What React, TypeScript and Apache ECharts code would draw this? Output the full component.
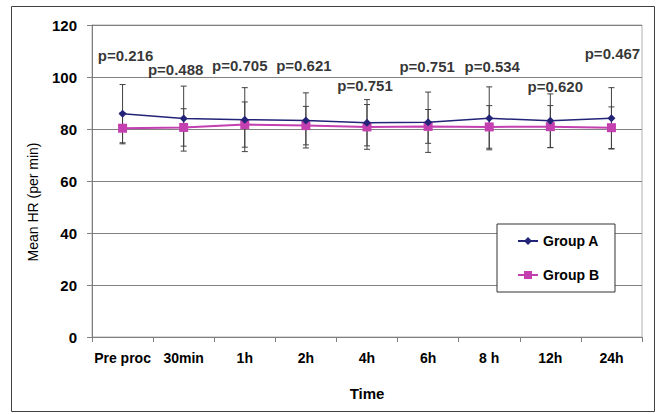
import React, { useEffect, useRef } from "react";
import * as echarts from "echarts";

const categories = ["Pre proc", "30min", "1h", "2h", "4h", "6h", "8 h", "12h", "24h"];
const groupAMean = [85.9, 84.0, 83.6, 83.3, 82.4, 82.6, 84.1, 83.2, 84.1];
const groupASd = [11.2, 12.5, 12.3, 10.6, 8.9, 11.6, 12.1, 10.3, 11.8];
const groupBMean = [80.3, 80.6, 81.7, 81.3, 80.8, 81.0, 80.8, 80.9, 80.5];
const groupBSd = [6.0, 7.2, 8.7, 7.4, 8.6, 6.5, 8.2, 8.1, 8.0];
const pLabels = ["p=0.216", "p=0.488", "p=0.705", "p=0.621", "p=0.751", "p=0.751", "p=0.534", "p=0.620", "p=0.467"];
const pLabelY = [108.3, 103.0, 104.5, 104.5, 96.8, 104.1, 104.1, 96.2, 109.0];
const pLabelDx = [3, -8, -5, -2, -2, -1, 3, 5, 1];

const FONT = "'Liberation Sans', Arial, sans-serif";

export default function App() {
  const ref = useRef<HTMLDivElement>(null);
  useEffect(() => {
    if (!ref.current) return;
    const chart = echarts.init(ref.current, null, { renderer: "svg" });
    const errData = (means: number[], sds: number[]) => means.map((m, i) => [i, m, sds[i]]);
    const renderErr = (params: any, api: any) => {
      const x = api.value(0);
      const m = api.value(1);
      const sd = api.value(2);
      const hi = api.coord([x, m + sd]);
      const lo = api.coord([x, m - sd]);
      const w = 3;
      const style = { stroke: "#404040", lineWidth: 1 };
      return {
        type: "group",
        children: [
          { type: "line", shape: { x1: hi[0], y1: hi[1], x2: lo[0], y2: lo[1] }, style },
          { type: "line", shape: { x1: hi[0] - w, y1: hi[1], x2: hi[0] + w, y2: hi[1] }, style },
          { type: "line", shape: { x1: lo[0] - w, y1: lo[1], x2: lo[0] + w, y2: lo[1] }, style },
        ],
      };
    };
    chart.setOption({
      animation: false,
      backgroundColor: "#ffffff",
      textStyle: { fontFamily: FONT },
      grid: {
        left: 92,
        right: 15,
        top: 25,
        bottom: 77,
        show: true,
        borderColor: "#b0b0b0",
        borderWidth: 1,
      },
      legend: {
        orient: "vertical",
        left: 497,
        top: 224,
        width: 119,
        padding: [10, 16, 10, 20],
        itemGap: 20,
        itemWidth: 20,
        itemHeight: 10,
        backgroundColor: "#ffffff",
        borderColor: "#333333",
        borderWidth: 1,
        textStyle: { fontSize: 14, fontWeight: "bold", color: "#000", fontFamily: FONT },
        data: ["Group A", "Group B"],
      },
      xAxis: {
        type: "category",
        data: categories,
        boundaryGap: true,
        name: "Time",
        nameLocation: "middle",
        nameGap: 49,
        nameTextStyle: { fontSize: 15, fontWeight: "bold", color: "#000", fontFamily: FONT },
        axisLine: { lineStyle: { color: "#7f7f7f", width: 1 } },
        axisTick: { show: true, length: 5, lineStyle: { color: "#7f7f7f" } },
        axisLabel: {
          interval: 0,
          hideOverlap: false,
          fontSize: 14,
          fontWeight: "bold",
          color: "#000",
          margin: 14,
          fontFamily: FONT,
        },
      },
      yAxis: {
        type: "value",
        min: 0,
        max: 120,
        interval: 20,
        axisLine: { show: true, lineStyle: { color: "#7f7f7f", width: 1 } },
        axisTick: { show: true, length: 5, lineStyle: { color: "#7f7f7f" } },
        axisLabel: { fontSize: 15, fontWeight: "bold", color: "#000", margin: 15, fontFamily: FONT },
        splitLine: { show: true, lineStyle: { color: "#808080", width: 1 } },
      },
      graphic: [
        {
          type: "rect",
          shape: { x: 11.5, y: 6.5, width: 643, height: 405 },
          style: { fill: "none", stroke: "#404040", lineWidth: 1 },
          silent: true,
          z: 100,
        },
        {
          type: "text",
          x: 33,
          y: 202,
          rotation: Math.PI / 2,
          style: {
            text: "Mean HR (per min)",
            fontSize: 14,
            fontFamily: FONT,
            fill: "#000",
            textAlign: "center",
            textVerticalAlign: "middle",
          },
        },
      ],
      series: [
        {
          type: "custom",
          name: "errA",
          renderItem: renderErr,
          data: errData(groupAMean, groupASd),
          z: 1,
          silent: true,
        },
        {
          type: "custom",
          name: "errB",
          renderItem: renderErr,
          data: errData(groupBMean, groupBSd),
          z: 1,
          silent: true,
        },
        {
          type: "line",
          name: "Group B",
          data: groupBMean,
          symbol: "rect",
          symbolSize: 9,
          itemStyle: { color: "#c43fb0" },
          lineStyle: { color: "#c43fb0", width: 2 },
          z: 3,
        },
        {
          type: "line",
          name: "Group A",
          data: groupAMean,
          symbol: "diamond",
          symbolSize: 8,
          itemStyle: { color: "#232378" },
          lineStyle: { color: "#232378", width: 1.5 },
          z: 4,
        },
        {
          type: "scatter",
          name: "pvals",
          symbolSize: 0,
          silent: true,
          data: pLabelY.map((y, i) => ({
            value: [i, y],
            label: {
              show: true,
              position: "inside",
              offset: [pLabelDx[i], 0],
              formatter: pLabels[i],
              fontSize: 15,
              fontWeight: "bold",
              color: "#000",
              fontFamily: FONT,
            },
          })),
          z: 5,
        },
      ],
    });
    return () => chart.dispose();
  }, []);
  return (
    <div
      ref={ref}
      style={{ position: "fixed", left: 0, top: 0, width: 657, height: 414, background: "#fff" }}
    />
  );
}
